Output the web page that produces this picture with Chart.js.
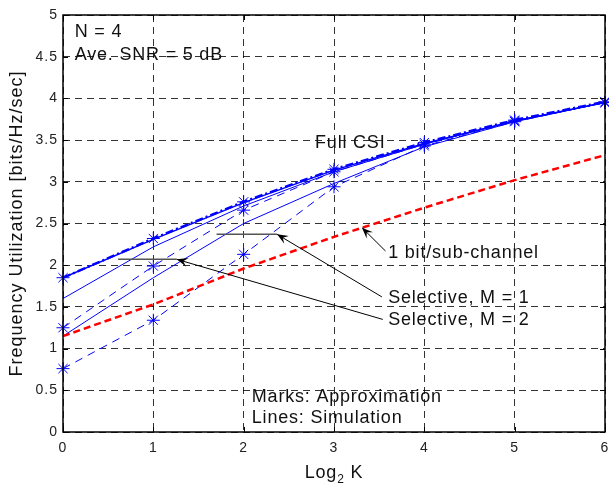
<!DOCTYPE html>
<html>
<head>
<meta charset="utf-8">
<script src="https://cdn.jsdelivr.net/npm/chart.js@4/dist/chart.umd.min.js"></script>
<style>
html, body { margin: 0; padding: 0; background: #fff; }
</style>
</head>
<body>
<canvas id="fuChart" width="609" height="484"></canvas>
<script>
// data
const logK = [0, 1, 2, 3, 4, 5, 6];
const fullCsiSim = [1.85, 2.31, 2.75, 3.14, 3.46, 3.73, 3.95];
const fullCsiApprox = [1.85, 2.32, 2.76, 3.15, 3.47, 3.74, 3.96];
const selM1Sim = [1.60, 2.22, 2.71, 3.12, 3.45, 3.73, 3.95];
const selM1Approx = [1.25, 1.99, 2.66, 3.12, 3.45, 3.73, 3.95];
const selM2Sim = [1.15, 1.85, 2.50, 2.98, 3.42, 3.72, 3.95];
const selM2Approx = [0.76, 1.34, 2.13, 2.94, 3.43, 3.72, 3.95];
const oneBitSim = [1.15, 1.53, 1.96, 2.34, 2.69, 3.02, 3.32];
const xTicks = [0, 1, 2, 3, 4, 5, 6];
const yTicks = [0, 0.5, 1, 1.5, 2, 2.5, 3, 3.5, 4, 4.5, 5];

const FONT = '"Liberation Sans", Arial, sans-serif';
const BLUE = '#0000ff';

function pts(ys) {
    return logK.map((x, i) => ({ x: x, y: ys[i] }));
}

function line(ys, opts) {
    return Object.assign({
        data: pts(ys),
        showLine: true,
        clip: false,
        borderColor: BLUE,
        backgroundColor: BLUE,
        borderWidth: 1,
        pointRadius: 0,
        pointStyle: 'star',
        pointBorderColor: BLUE,
        pointBorderWidth: 1,
        tension: 0
    }, opts || {});
}

function marked(ys, opts) {
    return line(ys, Object.assign({ pointRadius: 6.5, pointHoverRadius: 6.5 }, opts));
}

// text notes and arrows, placed in data units
const notes = [
    { text: 'N = 4', x: 0.13, y: 4.80 },
    { text: 'Ave. SNR = 5 dB', x: 0.13, y: 4.52 },
    { text: 'Full CSI', x: 2.79, y: 3.47 },
    { text: '1 bit/sub-channel', x: 3.6, y: 2.15 },
    { text: 'Selective, M = 1', x: 3.6, y: 1.61 },
    { text: 'Selective, M = 2', x: 3.6, y: 1.34 },
    { text: 'Marks: Approximation', x: 2.09, y: 0.42 },
    { text: 'Lines: Simulation', x: 2.09, y: 0.17 }
];
const arrows = [
    { from: [3.57, 2.17], to: [3.31, 2.45] },
    { from: [3.53, 1.62], to: [2.37, 2.37], bar: 1.70 },
    { from: [3.54, 1.35], to: [1.26, 2.07], bar: 0.61 }
];

const decorPlugin = {
    id: 'decor',
    beforeDraw(chart) {
        chart.ctx.letterSpacing = '1px';
    },
    afterDraw(chart) {
        const ctx = chart.ctx;
        const sx = chart.scales.x, sy = chart.scales.y;
        const X = v => sx.getPixelForValue(v);
        const Y = v => sy.getPixelForValue(v);
        // plot frame from the scales themselves
        const a = { left: X(0), right: X(6), top: Y(5), bottom: Y(0) };
        ctx.save();

        // inward ticks on all four sides
        ctx.strokeStyle = '#000';
        ctx.lineWidth = 1;
        ctx.beginPath();
        xTicks.forEach(t => {
            const p = Math.round(X(t)) + 0.5;
            ctx.moveTo(p, a.bottom); ctx.lineTo(p, a.bottom - 5);
            ctx.moveTo(p, a.top); ctx.lineTo(p, a.top + 5);
        });
        yTicks.forEach(t => {
            const p = Math.round(Y(t)) + 0.5;
            ctx.moveTo(a.left, p); ctx.lineTo(a.left + 5, p);
            ctx.moveTo(a.right, p); ctx.lineTo(a.right - 5, p);
        });
        ctx.stroke();

        // box
        ctx.lineWidth = 1.5;
        ctx.strokeRect(a.left, a.top, a.right - a.left, a.bottom - a.top);

        // notes
        ctx.fillStyle = '#111';
        ctx.font = '18px ' + FONT;
        ctx.letterSpacing = '0.8px';
        ctx.textBaseline = 'middle';
        ctx.textAlign = 'left';
        notes.forEach(n => ctx.fillText(n.text, X(n.x), Y(n.y)));

        // arrows
        arrows.forEach(ar => {
            const x0 = X(ar.from[0]), y0 = Y(ar.from[1]);
            const x1 = X(ar.to[0]), y1 = Y(ar.to[1]);
            if (ar.bar !== undefined) {
                ctx.strokeStyle = '#555';
                ctx.lineWidth = 1.5;
                ctx.beginPath();
                ctx.moveTo(X(ar.bar), y1);
                ctx.lineTo(x1, y1);
                ctx.stroke();
            }
            ctx.strokeStyle = '#000';
            ctx.fillStyle = '#000';
            ctx.lineWidth = 1;
            ctx.beginPath();
            ctx.moveTo(x0, y0);
            ctx.lineTo(x1, y1);
            ctx.stroke();
            const ang = Math.atan2(y1 - y0, x1 - x0);
            const L = 11, W = 4.5;
            ctx.save();
            ctx.translate(x1, y1);
            ctx.rotate(ang);
            ctx.beginPath();
            ctx.moveTo(0, 0);
            ctx.lineTo(-L, -W);
            ctx.lineTo(-L * 0.6, 0);
            ctx.lineTo(-L, W);
            ctx.closePath();
            ctx.fill();
            ctx.restore();
        });

        // x title with subscript
        ctx.fillStyle = '#111';
        ctx.textBaseline = 'alphabetic';
        ctx.letterSpacing = '0.8px';
        const cx = (a.left + a.right) / 2;
        ctx.font = '18px ' + FONT;
        const w1 = ctx.measureText('Log').width;
        const w3 = ctx.measureText(' K').width;
        ctx.font = '12px ' + FONT;
        const w2 = ctx.measureText('2').width;
        const xs = cx - (w1 + w2 + w3) / 2;
        const base = a.bottom + 46;
        ctx.font = '18px ' + FONT;
        ctx.fillText('Log', xs, base);
        ctx.font = '12px ' + FONT;
        ctx.fillText('2', xs + w1, base + 5);
        ctx.font = '18px ' + FONT;
        ctx.fillText(' K', xs + w1 + w2, base);

        ctx.restore();
    }
};

const gridOpts = {
    color: 'rgba(0,0,0,0.8)',
    lineWidth: 1,
    drawTicks: false
};

const ctx = document.getElementById('fuChart').getContext('2d');
const fuChart = new Chart(ctx, {
    type: 'scatter',
    data: {
        datasets: [
            line(oneBitSim, { borderColor: '#ff0000', borderWidth: 2.5, borderDash: [7, 4] }),
            line(selM2Sim),
            marked(selM2Approx, { borderDash: [8, 6] }),
            line(selM1Sim),
            marked(selM1Approx, { borderDash: [8, 6] }),
            line(fullCsiSim, { borderWidth: 1.5 }),
            marked(fullCsiApprox, { borderWidth: 2.5, borderDash: [8, 3, 2, 3] })
        ]
    },
    options: {
        responsive: false,
        animation: false,
        layout: { autoPadding: false, padding: { top: 15, right: 4, left: 0, bottom: 0 } },
        plugins: {
            legend: { display: false },
            tooltip: { enabled: false }
        },
        scales: {
            x: {
                type: 'linear',
                min: 0,
                max: 6,
                afterBuildTicks: s => { s.ticks = xTicks.map(v => ({ value: v })); },
                grid: gridOpts,
                border: { display: false, dash: [7, 5] },
                ticks: {
                    padding: 8,
                    color: '#222',
                    font: { family: FONT, size: 14 },
                    maxRotation: 0
                },
                afterFit: s => { s.height = 52; s.paddingLeft = 0; s.paddingRight = 0; }
            },
            y: {
                type: 'linear',
                min: 0,
                max: 5,
                afterBuildTicks: s => { s.ticks = yTicks.map(v => ({ value: v })); },
                grid: gridOpts,
                border: { display: false, dash: [7, 5] },
                ticks: {
                    padding: 5,
                    color: '#222',
                    font: { family: FONT, size: 14 },
                    callback: v => String(v)
                },
                title: {
                    display: true,
                    text: 'Frequency Utilization [bits/Hz/sec]',
                    color: '#111',
                    font: { family: FONT, size: 18 },
                    padding: { top: 6, bottom: 0 }
                },
                afterFit: s => { s.width = 63; s.paddingTop = 0; s.paddingBottom = 0; }
            }
        }
    },
    plugins: [decorPlugin]
});
</script>
</body>
</html>
